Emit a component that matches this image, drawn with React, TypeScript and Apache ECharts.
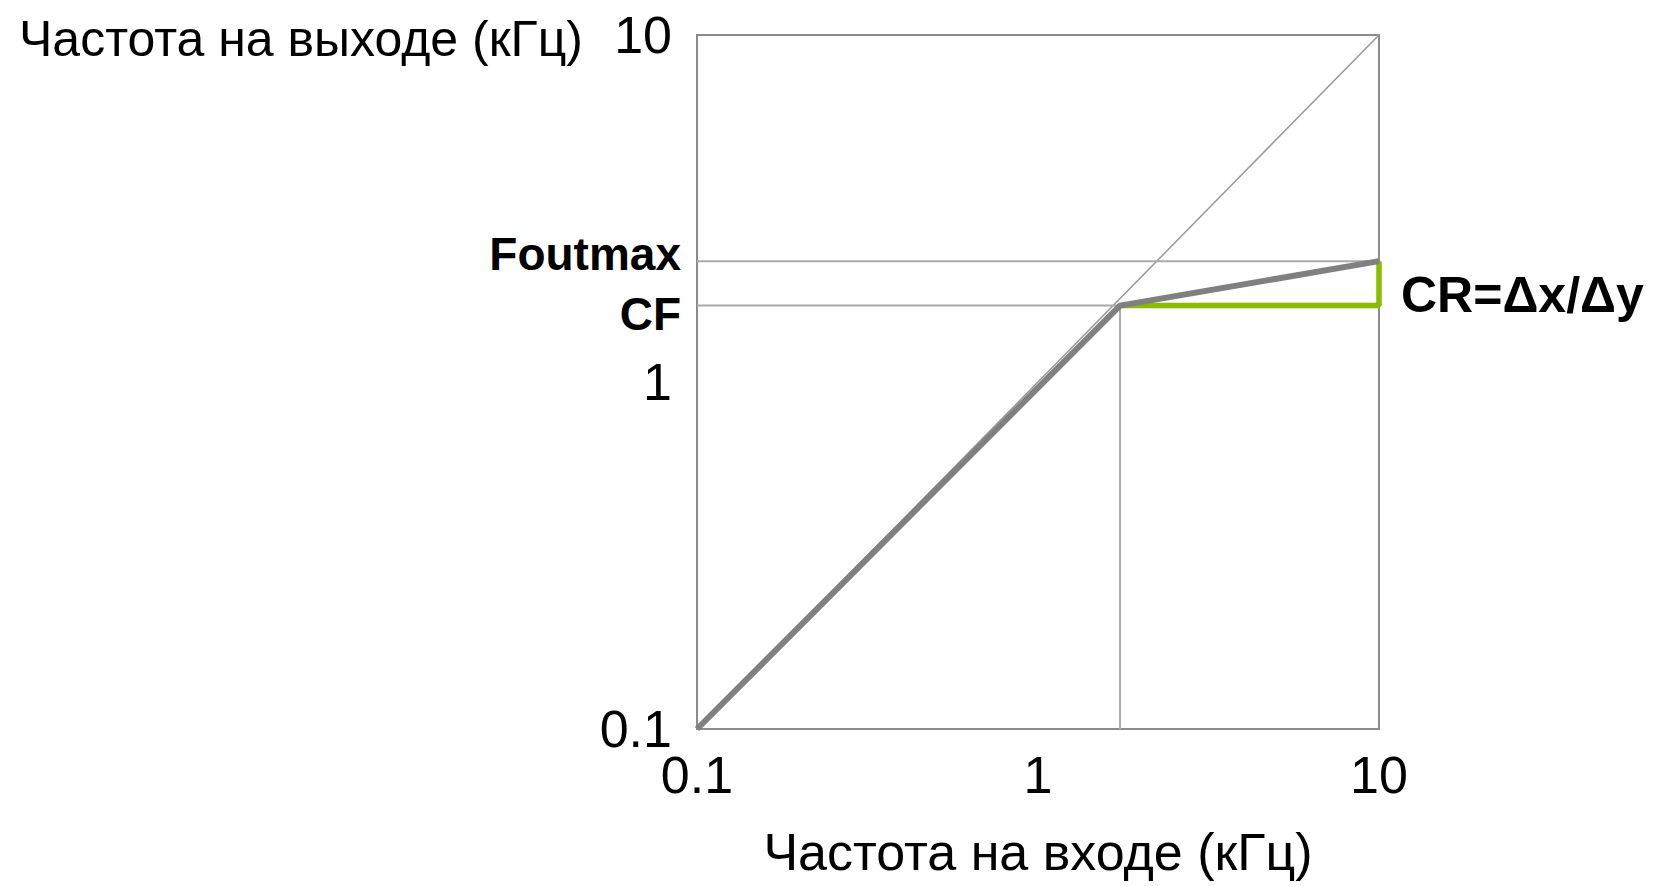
import React, { useEffect, useRef } from "react";
import * as echarts from "echarts";

// Frequency range of both log axes (kHz)
const AXIS_MIN = 0.1;
const AXIS_MAX = 10;

// Break point of the response: input frequency and corner output frequency (kHz)
const CF_IN = 1.74;
const CF = 1.66;
// Maximum output frequency (kHz)
const FOUT_MAX = 2.23;

// Labels
const X_NAME = "Частота на входе (кГц)";
const Y_NAME = "Частота на выходе (кГц)";
const FOUT_LABEL = "Foutmax";
const CF_LABEL = "CF";
const CR_LABEL = "CR=Δx/Δy";

// Line geometry as [input, output] pairs
const idealLine: number[][] = [
  [AXIS_MIN, AXIS_MIN],
  [AXIS_MAX, AXIS_MAX],
];
const foutGuide: number[][] = [
  [AXIS_MIN, FOUT_MAX],
  [AXIS_MAX, FOUT_MAX],
];
const cfGuide: number[][] = [
  [AXIS_MIN, CF],
  [CF_IN, CF],
  [CF_IN, AXIS_MIN],
];
const ratioMarker: number[][] = [
  [CF_IN, CF],
  [AXIS_MAX, CF],
  [AXIS_MAX, FOUT_MAX],
];
const responseCurve: number[][] = [
  [AXIS_MIN, AXIS_MIN],
  [CF_IN, CF],
  [AXIS_MAX, FOUT_MAX],
];

const FONT = "'Liberation Sans', Arial, sans-serif";
const FONT_SIZE = 52;

const fmt = (v: number) => (v < 1 ? v.toFixed(1) : String(Math.round(v)));

const plain = (pts: number[][]) => pts.map((p) => ({ value: p }));

export default function App() {
  const ref = useRef<HTMLDivElement>(null);

  useEffect(() => {
    if (!ref.current) return;
    const chart = echarts.init(ref.current, undefined, { renderer: "svg" });

    const boldLabel = {
      show: true,
      fontFamily: FONT,
      fontWeight: "bold" as const,
      fontSize: 46,
      color: "#000",
    };

    chart.setOption({
      animation: false,
      backgroundColor: "#fff",
      grid: {
        left: 697,
        right: 277,
        top: 35,
        bottom: 157,
        outerBoundsMode: "none",
        containLabel: false,
        show: true,
        borderColor: "#8c8c8c",
        borderWidth: 2,
        backgroundColor: "transparent",
      },
      xAxis: {
        type: "log",
        logBase: 10,
        min: AXIS_MIN,
        max: AXIS_MAX,
        name: X_NAME,
        nameLocation: "middle",
        nameGap: 97,
        nameTextStyle: { fontFamily: FONT, fontSize: FONT_SIZE, color: "#000" },
        axisLine: { show: false },
        axisTick: { show: false },
        splitLine: { show: false },
        axisLabel: {
          fontFamily: FONT,
          fontSize: FONT_SIZE,
          color: "#000",
          margin: 20,
          formatter: fmt,
        },
      },
      yAxis: {
        type: "log",
        logBase: 10,
        min: AXIS_MIN,
        max: AXIS_MAX,
        axisLine: { show: false },
        axisTick: { show: false },
        splitLine: { show: false },
        axisLabel: {
          fontFamily: FONT,
          fontSize: FONT_SIZE,
          color: "#000",
          margin: 25,
          formatter: fmt,
        },
      },
      graphic: [
        {
          type: "text",
          x: 19,
          y: 39,
          style: {
            text: Y_NAME,
            font: `50px ${FONT}`,
            fill: "#000",
            textVerticalAlign: "middle",
          },
        },
      ],
      series: [
        {
          type: "line",
          data: plain(idealLine),
          symbol: "none",
          lineStyle: { color: "#999999", width: 1.5 },
          silent: true,
          z: 2,
        },
        {
          type: "line",
          data: foutGuide.map((p, i) =>
            i === 0
              ? {
                  value: p,
                  label: {
                    ...boldLabel,
                    formatter: FOUT_LABEL,
                    position: "left",
                    distance: 16,
                    offset: [0, -7],
                  },
                }
              : { value: p }
          ),
          symbol: "circle",
          symbolSize: 0,
          showSymbol: true,
          lineStyle: { color: "#aaaaaa", width: 2 },
          silent: true,
          z: 2,
        },
        {
          type: "line",
          data: cfGuide.map((p, i) =>
            i === 0
              ? {
                  value: p,
                  label: {
                    ...boldLabel,
                    formatter: CF_LABEL,
                    position: "left",
                    distance: 16,
                    offset: [0, 8],
                  },
                }
              : { value: p }
          ),
          symbol: "circle",
          symbolSize: 0,
          showSymbol: true,
          lineStyle: { color: "#aaaaaa", width: 2 },
          silent: true,
          z: 2,
        },
        {
          type: "line",
          data: ratioMarker.map((p, i) =>
            i === 1
              ? {
                  value: p,
                  label: {
                    ...boldLabel,
                    fontSize: 50,
                    formatter: CR_LABEL,
                    position: "right",
                    distance: 22,
                    offset: [0, -11],
                  },
                }
              : { value: p }
          ),
          symbol: "circle",
          symbolSize: 0,
          showSymbol: true,
          lineStyle: { color: "#8abd00", width: 5.5 },
          silent: true,
          z: 3,
        },
        {
          type: "line",
          data: plain(responseCurve),
          symbol: "none",
          lineStyle: { color: "#808080", width: 6 },
          silent: true,
          z: 4,
        },
      ],
    });

    return () => chart.dispose();
  }, []);

  return (
    <div
      ref={ref}
      style={{ position: "fixed", left: 0, top: 0, width: 1656, height: 886 }}
    />
  );
}
